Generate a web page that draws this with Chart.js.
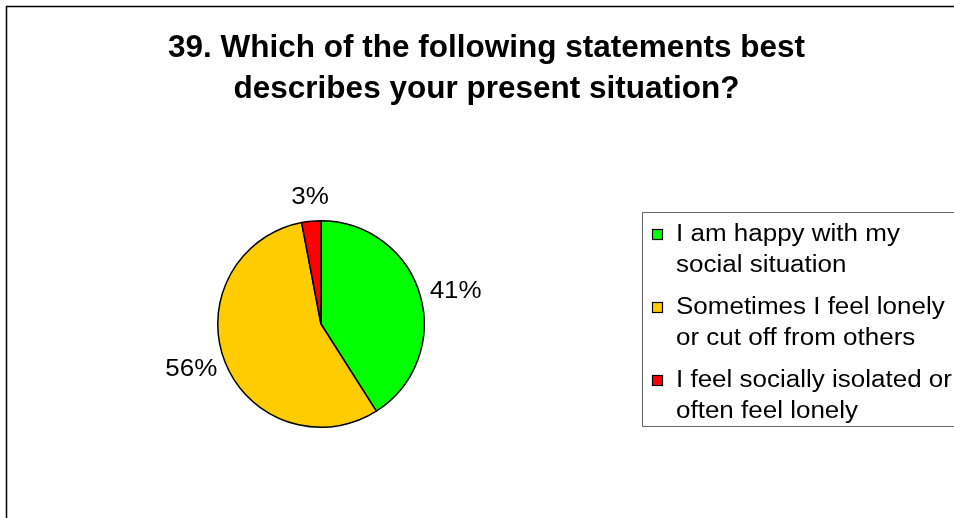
<!DOCTYPE html>
<html>
<head>
<meta charset="utf-8">
<script src="https://cdn.jsdelivr.net/npm/chart.js@4.4.1/dist/chart.umd.min.js"></script>
<style>
  html, body { margin: 0; padding: 0; background: #ffffff; }
  #wrap { position: relative; width: 954px; height: 518px; }
</style>
</head>
<body>
<div id="wrap"><canvas id="c" width="954" height="518"></canvas></div>
<script>
// Survey question and answer shares (percent)
const titleLines = ['39. Which of the following statements best', 'describes your present situation?'];
const categories = [
  ['I am happy with my', 'social situation'],
  ['Sometimes I feel lonely', 'or cut off from others'],
  ['I feel socially isolated or', 'often feel lonely']
];
const shares = [41, 56, 3];
const sliceColors = ['#00FF00', '#FFCC00', '#FF0000'];

const FONT = '"Liberation Sans", Arial, sans-serif';
const TEXT_STRETCH = 1.13; // body text is set slightly wide

// draw text stretched horizontally, anchored at x by alignment
function wideText(ctx, txt, x, y, align) {
  const w = ctx.measureText(txt).width * TEXT_STRETCH;
  let left = x;
  if (align === 'center') left = x - w / 2;
  else if (align === 'right') left = x - w;
  ctx.save();
  ctx.textAlign = 'left';
  ctx.translate(left, y);
  ctx.scale(TEXT_STRETCH, 1);
  ctx.fillText(txt, 0, 0);
  ctx.restore();
  return w;
}

// Frame, title, slice percentages and the boxed legend
const decorations = {
  id: 'decorations',
  beforeDraw(chart) {
    const ctx = chart.ctx;
    ctx.save();
    ctx.fillStyle = '#ffffff';
    ctx.fillRect(0, 0, chart.width, chart.height);
    ctx.strokeStyle = '#000000';
    ctx.lineWidth = 1.5;
    ctx.beginPath();
    ctx.moveTo(6.5, chart.height + 2);
    ctx.lineTo(6.5, 6.5);
    ctx.lineTo(chart.width + 2, 6.5);
    ctx.stroke();
    ctx.restore();
  },
  afterDraw(chart) {
    const ctx = chart.ctx;
    ctx.save();
    // title
    ctx.fillStyle = '#000000';
    ctx.font = 'bold 31.5px ' + FONT;
    ctx.textAlign = 'center';
    ctx.textBaseline = 'alphabetic';
    titleLines.forEach((t, i) => ctx.fillText(t, 486.5, 57 + i * 41));

    // percentage labels outside each slice
    const meta = chart.getDatasetMeta(0);
    ctx.font = '23px ' + FONT;
    ctx.textBaseline = 'middle';
    meta.data.forEach((arc, i) => {
      const p = arc.getProps(['x', 'y', 'startAngle', 'endAngle', 'outerRadius'], true);
      const mid = (p.startAngle + p.endAngle) / 2;
      const txt = Math.round(shares[i]) + '%';
      const w = ctx.measureText(txt).width * TEXT_STRETCH;
      const h = 26;
      const r = p.outerRadius + 12;
      const cx = p.x + Math.cos(mid) * (r + w / 2 * Math.abs(Math.cos(mid)));
      const cy = p.y + Math.sin(mid) * (r + h / 2 * Math.abs(Math.sin(mid)));
      wideText(ctx, txt, cx, cy + 1, 'center');
    });

    // legend box
    const bx = 642.5, by = 212.5, bh = 214;
    ctx.strokeStyle = '#666666';
    ctx.lineWidth = 1;
    ctx.beginPath();
    ctx.moveTo(chart.width + 2, by);
    ctx.lineTo(bx, by);
    ctx.lineTo(bx, by + bh);
    ctx.lineTo(chart.width + 2, by + bh);
    ctx.stroke();

    ctx.font = '23px ' + FONT;
    ctx.textBaseline = 'alphabetic';
    categories.forEach((lines, i) => {
      const base = 241 + i * 73;
      const my = Math.round(base - 12.5);
      ctx.fillStyle = sliceColors[i];
      ctx.fillRect(652.5, my + 0.5, 10, 10);
      ctx.strokeStyle = '#000000';
      ctx.lineWidth = 1.2;
      ctx.strokeRect(652.5, my + 0.5, 10, 10);
      ctx.fillStyle = '#000000';
      lines.forEach((ln, j) => wideText(ctx, ln, 676, base + j * 31, 'left'));
    });
    ctx.restore();
  }
};

new Chart(document.getElementById('c'), {
  type: 'pie',
  data: {
    labels: categories.map(l => l.join(' ')),
    datasets: [{
      data: shares,
      backgroundColor: sliceColors,
      borderColor: '#000000',
      borderWidth: 1.5,
      borderAlign: 'center'
    }]
  },
  options: {
    responsive: false,
    animation: false,
    layout: { padding: { left: 217, right: 529, top: 220, bottom: 90 } },
    plugins: {
      legend: { display: false },
      title: { display: false },
      tooltip: { enabled: false }
    }
  },
  plugins: [decorations]
});
</script>
</body>
</html>
